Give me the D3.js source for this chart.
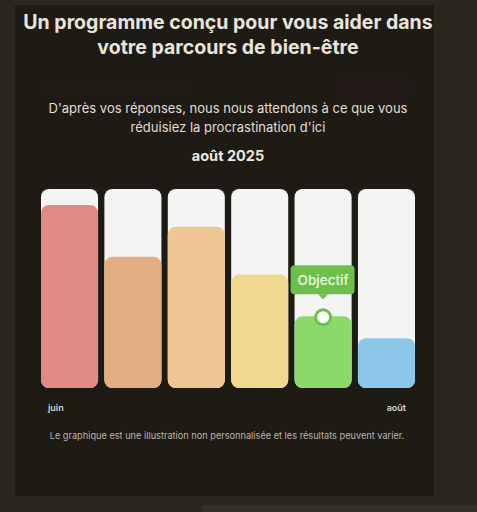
<!DOCTYPE html>
<html><head><meta charset="utf-8">
<script src="https://cdn.jsdelivr.net/npm/d3@7"></script>
<style>
html,body{margin:0;padding:0;background:#2a271f;}
svg{display:block;font-family:Inter,"Noto Sans",sans-serif;}
</style></head>
<body><svg id="c" width="477" height="512"></svg>
<script>
const categories = ["m1","m2","m3","m4","m5","m6"];
const values = [92, 66, 81, 57, 36, 25];
const colors = ["#e08b84","#e3ad82","#efc792","#eed98f","#8dd86b","#8cc7ea"];
const axisLabels = ["juin","août"];
const goalIndex = 4;
const titleLines = ["Un programme conçu pour vous aider dans","votre parcours de bien-être"];
const subLines = ["D'après vos réponses, nous nous attendons à ce que vous","réduisiez la procrastination d'ici"];
const dateLabel = "août 2025";
const footnote = "Le graphique est une illustration non personnalisée et les résultats peuvent varier.";

const svg = d3.select("#c");
svg.append("rect").attr("width",477).attr("height",512).attr("fill","#2a271f");
svg.append("rect").attr("x",202).attr("y",505).attr("width",275).attr("height",7).attr("fill","#35312a");
svg.append("rect").attr("x",15).attr("y",5).attr("width",419).attr("height",491).attr("fill","#1e1b15");

// faint ghost elements
svg.append("text").attr("x",41).attr("y",93).attr("font-size",12).attr("font-weight",600).attr("fill","#221f19").text("Niveau de procrastination");
svg.append("rect").attr("x",336).attr("y",75).attr("width",75).attr("height",26).attr("rx",4).attr("fill","#221a16");

const tc = 228;
titleLines.forEach((t,i)=>svg.append("text").attr("x",tc).attr("y",29+i*25).attr("text-anchor","middle")
  .attr("font-size",19.5).attr("font-weight",700).attr("fill","#e9e5dc").text(t));
subLines.forEach((t,i)=>svg.append("text").attr("x",tc).attr("y",113+i*19).attr("text-anchor","middle")
  .attr("font-size",13).attr("fill","#e2ded6").text(t));
svg.append("text").attr("x",tc).attr("y",161).attr("text-anchor","middle").attr("font-size",14.5)
  .attr("font-weight",700).attr("fill","#ece8e0").text(dateLabel);

const x = d3.scaleBand().domain(categories).range([41,415]).paddingInner(0.1).paddingOuter(0);
const y = d3.scaleLinear().domain([0,100]).range([388,189]);
const bw = x.bandwidth();

const g = svg.append("g");
g.selectAll("rect.track").data(categories).join("rect").attr("class","track")
  .attr("x",d=>x(d)).attr("y",y(100)).attr("width",bw).attr("height",y(0)-y(100))
  .attr("rx",8).attr("fill","#f4f4f3");
g.selectAll("rect.bar").data(values).join("rect").attr("class","bar")
  .attr("x",(d,i)=>x(categories[i])).attr("y",d=>y(d)).attr("width",bw).attr("height",d=>y(0)-y(d))
  .attr("rx",8).attr("fill",(d,i)=>colors[i]);

// goal marker
const gx = x(categories[goalIndex]) + bw/2, gy = y(values[goalIndex]);
svg.append("circle").attr("cx",gx).attr("cy",gy+1).attr("r",7.5).attr("fill","#ffffff")
  .attr("stroke","#6cc24a").attr("stroke-width",3);
const tipW = 64, tipH = 29, tipY = gy - 51;
svg.append("rect").attr("x",gx-tipW/2-0.5).attr("y",tipY).attr("width",tipW).attr("height",tipH).attr("rx",4).attr("fill","#6cbf4a");
svg.append("path").attr("d",`M${gx-5},${tipY+tipH} L${gx},${tipY+tipH+5} L${gx+5},${tipY+tipH} Z`).attr("fill","#6cbf4a");
svg.append("text").attr("x",gx).attr("y",tipY+19.5).attr("text-anchor","middle").attr("font-size",13.5)
  .attr("font-weight",500).attr("fill","#eef7e8").text("Objectif");

svg.append("text").attr("x",48).attr("y",411).attr("font-size",9).attr("font-weight",600).attr("fill","#d8d4cc").text(axisLabels[0]);
svg.append("text").attr("x",406).attr("y",411).attr("text-anchor","end").attr("font-size",9).attr("font-weight",600).attr("fill","#d8d4cc").text(axisLabels[1]);
svg.append("text").attr("x",227).attr("y",439).attr("text-anchor","middle").attr("font-size",9.2).attr("fill","#b9b4ab").text(footnote);
</script></body></html>
